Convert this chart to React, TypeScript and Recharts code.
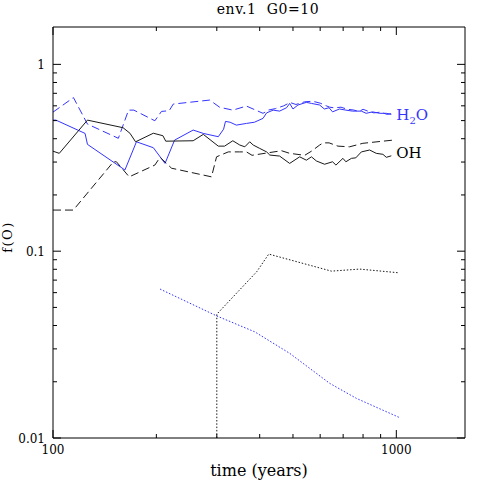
import { LineChart, Line, XAxis, YAxis, ReferenceDot } from "recharts"

const FONT = "DejaVu Serif"
const BLUE = "#3434ff"
const BLACK = "#1a1a1a"

const xTicks = [100, 200, 300, 400, 500, 600, 700, 800, 900, 1000]
const xMajor = [100, 1000]
const yTicks = [
  0.01, 0.02, 0.03, 0.04, 0.05, 0.06, 0.07, 0.08, 0.09,
  0.1, 0.2, 0.3, 0.4, 0.5, 0.6, 0.7, 0.8, 0.9, 1,
]
const yMajor = [0.01, 0.1, 1]

type Pt = { t: number; f: number }

// H2O, solid
const h2oSolid: Pt[] = [
  { t: 100, f: 0.503 }, { t: 102, f: 0.503 }, { t: 124, f: 0.427 }, { t: 126, f: 0.373 },
  { t: 162, f: 0.272 }, { t: 175, f: 0.385 }, { t: 196, f: 0.358 }, { t: 212, f: 0.295 },
  { t: 226, f: 0.393 }, { t: 256, f: 0.445 }, { t: 274, f: 0.427 }, { t: 303, f: 0.41 },
  { t: 314, f: 0.45 }, { t: 318, f: 0.495 }, { t: 328, f: 0.49 }, { t: 342, f: 0.473 },
  { t: 366, f: 0.483 }, { t: 386, f: 0.49 }, { t: 409, f: 0.514 }, { t: 419, f: 0.55 },
  { t: 438, f: 0.569 }, { t: 457, f: 0.562 }, { t: 479, f: 0.586 }, { t: 489, f: 0.618 },
  { t: 500, f: 0.577 }, { t: 517, f: 0.606 }, { t: 547, f: 0.626 }, { t: 566, f: 0.618 },
  { t: 598, f: 0.606 }, { t: 617, f: 0.577 }, { t: 637, f: 0.586 }, { t: 652, f: 0.557 },
  { t: 683, f: 0.577 }, { t: 713, f: 0.569 }, { t: 745, f: 0.562 }, { t: 791, f: 0.562 },
  { t: 817, f: 0.547 }, { t: 853, f: 0.557 }, { t: 894, f: 0.547 }, { t: 935, f: 0.547 },
  { t: 967, f: 0.54 },
]

// H2O, dashed
const h2oDashed: Pt[] = [
  { t: 100, f: 0.555 }, { t: 114.7, f: 0.664 }, { t: 126, f: 0.479 }, { t: 155, f: 0.402 },
  { t: 166, f: 0.569 }, { t: 172, f: 0.569 }, { t: 198, f: 0.499 }, { t: 207, f: 0.56 },
  { t: 218, f: 0.565 }, { t: 224, f: 0.613 }, { t: 286, f: 0.644 }, { t: 306, f: 0.589 },
  { t: 334, f: 0.569 }, { t: 366, f: 0.598 }, { t: 409, f: 0.547 }, { t: 425, f: 0.57 },
  { t: 445, f: 0.58 }, { t: 470, f: 0.6 }, { t: 490, f: 0.625 }, { t: 510, f: 0.61 },
  { t: 540, f: 0.63 }, { t: 570, f: 0.635 }, { t: 600, f: 0.62 }, { t: 625, f: 0.6 },
  { t: 640, f: 0.59 }, { t: 660, f: 0.585 }, { t: 690, f: 0.59 }, { t: 720, f: 0.575 },
  { t: 750, f: 0.57 }, { t: 780, f: 0.56 }, { t: 800, f: 0.575 }, { t: 830, f: 0.56 },
  { t: 860, f: 0.55 }, { t: 900, f: 0.555 }, { t: 940, f: 0.54 }, { t: 967, f: 0.545 },
]

// OH, solid
const ohSolid: Pt[] = [
  { t: 100, f: 0.343 }, { t: 104.3, f: 0.334 }, { t: 126, f: 0.503 }, { t: 160, f: 0.458 },
  { t: 167.5, f: 0.428 }, { t: 174, f: 0.385 }, { t: 196, f: 0.428 }, { t: 209, f: 0.415 },
  { t: 213, f: 0.388 }, { t: 256, f: 0.39 }, { t: 274, f: 0.422 }, { t: 303, f: 0.365 },
  { t: 316, f: 0.365 }, { t: 334, f: 0.39 }, { t: 350, f: 0.37 }, { t: 362, f: 0.362 },
  { t: 374, f: 0.385 }, { t: 383, f: 0.37 }, { t: 400, f: 0.355 }, { t: 419, f: 0.34 },
  { t: 428, f: 0.327 }, { t: 457, f: 0.323 }, { t: 489, f: 0.295 }, { t: 523, f: 0.32 },
  { t: 547, f: 0.307 }, { t: 566, f: 0.32 }, { t: 585, f: 0.304 }, { t: 618, f: 0.292 },
  { t: 652, f: 0.301 }, { t: 667, f: 0.289 }, { t: 699, f: 0.314 }, { t: 713, f: 0.301 },
  { t: 740, f: 0.314 }, { t: 762, f: 0.316 }, { t: 791, f: 0.34 }, { t: 836, f: 0.348 },
  { t: 874, f: 0.334 }, { t: 914, f: 0.33 }, { t: 935, f: 0.318 }, { t: 967, f: 0.324 },
]

// OH, dashed
const ohDashed: Pt[] = [
  { t: 100, f: 0.166 }, { t: 114.6, f: 0.166 }, { t: 150, f: 0.301 }, { t: 153, f: 0.301 },
  { t: 166.7, f: 0.25 }, { t: 198, f: 0.289 }, { t: 205, f: 0.318 }, { t: 221.5, f: 0.278 },
  { t: 289.5, f: 0.25 }, { t: 299.5, f: 0.32 }, { t: 324, f: 0.34 }, { t: 349, f: 0.34 },
  { t: 366, f: 0.34 }, { t: 380, f: 0.326 }, { t: 463, f: 0.345 }, { t: 489, f: 0.334 },
  { t: 541, f: 0.326 }, { t: 566, f: 0.343 }, { t: 598, f: 0.37 }, { t: 612, f: 0.38 },
  { t: 637, f: 0.38 }, { t: 676, f: 0.365 }, { t: 731, f: 0.362 }, { t: 799, f: 0.378 },
  { t: 914, f: 0.388 }, { t: 977, f: 0.393 },
]

// dotted black
const dotBlack: Pt[] = [
  { t: 300, f: 0.01 }, { t: 300, f: 0.046 }, { t: 392, f: 0.0776 }, { t: 425, f: 0.0965 },
  { t: 647, f: 0.0782 }, { t: 782, f: 0.0802 }, { t: 1018, f: 0.0766 },
]

// dotted blue
const dotBlue: Pt[] = [
  { t: 205, f: 0.0627 }, { t: 300, f: 0.045 }, { t: 387, f: 0.037 }, { t: 489, f: 0.0284 },
  { t: 640, f: 0.0196 }, { t: 765, f: 0.0163 }, { t: 1018, f: 0.0129 },
]

const X_DOMAIN = [100, 1585]
const Y_DOMAIN = [0.01, 1.585]

const BottomTick = ({ x, y, payload }: any) => {
  const major = xMajor.includes(payload.value)
  return (
    <g>
      <line x1={x} y1={y} x2={x} y2={y - (major ? 8 : 4)} stroke="#000" />
      {major && (
        <text x={x} y={y + 16} textAnchor="middle" fontSize={12} fontFamily={FONT} fill="#000">
          {payload.value}
        </text>
      )}
    </g>
  )
}

const TopTick = ({ x, y, payload }: any) => {
  const major = xMajor.includes(payload.value)
  return <line x1={x} y1={y} x2={x} y2={y + (major ? 8 : 4)} stroke="#000" />
}

const LeftTick = ({ x, y, payload }: any) => {
  const major = yMajor.includes(payload.value)
  return (
    <g>
      <line x1={x} y1={y} x2={x + (major ? 8 : 4)} y2={y} stroke="#000" />
      {major && (
        <text x={x - 8} y={y + 4.5} textAnchor="end" fontSize={12} fontFamily={FONT} fill="#000">
          {payload.value}
        </text>
      )}
    </g>
  )
}

const RightTick = ({ x, y, payload }: any) => {
  const major = yMajor.includes(payload.value)
  return <line x1={x} y1={y} x2={x - (major ? 8 : 4)} y2={y} stroke="#000" />
}

export default function App() {
  return (
    <div style={{ position: "absolute", left: 0, top: 0, background: "#fff" }}>
      <LineChart width={491} height={491} margin={{ top: 0, right: 0, bottom: 0, left: 0 }}>
        <XAxis
          xAxisId="b"
          type="number"
          dataKey="t"
          scale="log"
          domain={X_DOMAIN}
          allowDataOverflow
          ticks={xTicks}
          interval={0}
          tickSize={0}
          tickMargin={0}
          height={53}
          tick={<BottomTick />}
          axisLine={{ stroke: "#000" }}
          label={{
            content: ({ viewBox }: any) => (
              <text
                x={viewBox.x + viewBox.width / 2}
                y={viewBox.y + 38}
                textAnchor="middle"
                fontSize={16}
                fontFamily={FONT}
                fill="#000"
              >
                time (years)
              </text>
            ),
          }}
        />
        <XAxis
          xAxisId="t"
          orientation="top"
          type="number"
          dataKey="t"
          scale="log"
          domain={X_DOMAIN}
          allowDataOverflow
          ticks={xTicks}
          interval={0}
          tickSize={0}
          tickMargin={0}
          height={27}
          tick={<TopTick />}
          axisLine={{ stroke: "#000" }}
          label={{
            content: () => (
              <text x={268} y={14} textAnchor="middle" fontSize={14} fontFamily={FONT} fill="#000" letterSpacing={0.6}>
                {"env.1\u00a0\u00a0G0=10"}
              </text>
            ),
          }}
        />
        <YAxis
          yAxisId="l"
          type="number"
          scale="log"
          domain={Y_DOMAIN}
          allowDataOverflow
          ticks={yTicks}
          interval={0}
          tickSize={0}
          tickMargin={0}
          width={53}
          tick={<LeftTick />}
          axisLine={{ stroke: "#000" }}
          label={{
            content: () => (
              <text
                x={0}
                y={0}
                transform="translate(12, 237) rotate(-90)"
                textAnchor="middle"
                fontSize={13}
                fontFamily={FONT}
                fill="#000"
                letterSpacing={1.5}
              >
                f(O)
              </text>
            ),
          }}
        />
        <YAxis
          yAxisId="r"
          orientation="right"
          type="number"
          scale="log"
          domain={Y_DOMAIN}
          allowDataOverflow
          ticks={yTicks}
          interval={0}
          tickSize={0}
          tickMargin={0}
          width={26}
          tick={<RightTick />}
          axisLine={{ stroke: "#000" }}
        />

        <Line xAxisId="b" yAxisId="l" data={h2oSolid} dataKey="f" stroke={BLUE} strokeWidth={1} dot={false} isAnimationActive={false} />
        <Line xAxisId="b" yAxisId="l" data={h2oDashed} dataKey="f" stroke={BLUE} strokeWidth={1} strokeDasharray="8 4" dot={false} isAnimationActive={false} />
        <Line xAxisId="b" yAxisId="l" data={ohSolid} dataKey="f" stroke={BLACK} strokeWidth={1} dot={false} isAnimationActive={false} />
        <Line xAxisId="b" yAxisId="l" data={ohDashed} dataKey="f" stroke={BLACK} strokeWidth={1} strokeDasharray="8 4" dot={false} isAnimationActive={false} />
        <Line xAxisId="b" yAxisId="l" data={dotBlack} dataKey="f" stroke={BLACK} strokeWidth={1} strokeDasharray="1.5 1.8" dot={false} isAnimationActive={false} />
        <Line xAxisId="b" yAxisId="l" data={dotBlue} dataKey="f" stroke={BLUE} strokeWidth={1} strokeDasharray="1.5 1.8" dot={false} isAnimationActive={false} />

        <ReferenceDot
          xAxisId="b"
          yAxisId="l"
          x={1000}
          y={0.54}
          r={0}
          stroke="none"
          label={{
            content: ({ viewBox }: any) => (
              <text x={viewBox.x} y={viewBox.y + 6} fontSize={15} fontFamily={FONT} fill={BLUE}>
                <tspan>H</tspan>
                <tspan dy={4} fontSize={10}>2</tspan>
                <tspan dy={-4}>O</tspan>
              </text>
            ),
          }}
        />
        <ReferenceDot
          xAxisId="b"
          yAxisId="l"
          x={1000}
          y={0.339}
          r={0}
          stroke="none"
          label={{
            content: ({ viewBox }: any) => (
              <text x={viewBox.x} y={viewBox.y + 6} fontSize={15} fontFamily={FONT} fill="#000">
                OH
              </text>
            ),
          }}
        />
      </LineChart>
    </div>
  )
}
